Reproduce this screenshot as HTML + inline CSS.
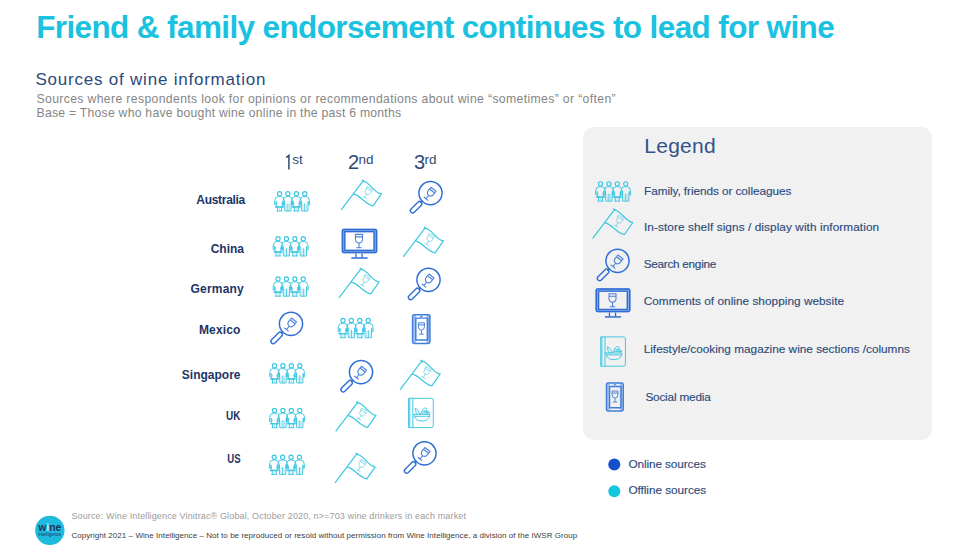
<!DOCTYPE html>
<html><head><meta charset="utf-8">
<style>
html,body{margin:0;padding:0;}
body{width:968px;height:555px;position:relative;overflow:hidden;background:#fff;font-family:"Liberation Sans",sans-serif;}
.t{position:absolute;white-space:pre;margin:0;}
#title{left:36.2px;top:12.2px;font-size:31.5px;line-height:31.5px;font-weight:bold;color:#1ac2e0;letter-spacing:-0.62px;}
#sub{left:35.5px;top:70.7px;font-size:17px;line-height:17px;color:#2b4a7c;letter-spacing:0.78px;}
.desc{left:36.5px;font-size:12.2px;line-height:12.2px;color:#858585;letter-spacing:0.7px;}
.cty{font-size:12px;line-height:12px;font-weight:bold;color:#1b3566;}
.hdr{font-size:20px;line-height:20px;color:#2f4a78;}
.hdr sup{font-size:13.5px;vertical-align:0;position:relative;top:-5.2px;margin-left:-0.6px;}
.leg{font-size:11.8px;line-height:11.8px;color:#2e4b7a;-webkit-text-stroke:0.15px #2e4b7a;}
#legbox{position:absolute;left:583px;top:126.5px;width:349px;height:313px;background:#f1f1f1;border-radius:11px;}
svg#ic{position:absolute;left:0;top:0;}
</style></head><body>
<div id="legbox"></div>
<div class="t" id="title">Friend &amp; family endorsement continues to lead for wine</div>
<div class="t" id="sub">Sources of wine information</div>
<div class="t desc" style="top:93.1px;letter-spacing:0.37px">Sources where respondents look for opinions or recommendations about wine “sometimes” or “often”</div>
<div class="t desc" style="top:106.6px;letter-spacing:0.26px">Base = Those who have bought wine online in the past 6 months</div>

<div class="t hdr" style="left:292.8px;top:152.3px"><sup>st</sup></div>
<div class="t hdr" style="left:348px;top:152.3px">2<sup>nd</sup></div>
<div class="t hdr" style="left:414px;top:152.3px">3<sup>rd</sup></div>

<div class="t cty" style="right:723px;top:193.8px;letter-spacing:-0.3px">Australia</div>
<div class="t cty" style="right:724px;top:242.9px">China</div>
<div class="t cty" style="right:724px;top:282.9px;letter-spacing:0.2px">Germany</div>
<div class="t cty" style="right:727.5px;top:324.4px;letter-spacing:0.15px">Mexico</div>
<div class="t cty" style="right:727.5px;top:368.8px">Singapore</div>
<div class="t cty" style="right:727.5px;top:409.5px;transform:scaleX(0.83);transform-origin:100% 50%">UK</div>
<div class="t cty" style="right:727.5px;top:453.3px;transform:scaleX(0.8);transform-origin:100% 50%">US</div>

<div class="t" style="left:644.3px;top:135.3px;font-size:21px;line-height:21px;color:#34528a;letter-spacing:0.25px">Legend</div>
<div class="t leg" style="left:644px;top:185.5px;letter-spacing:-0.07px">Family, friends or colleagues</div>
<div class="t leg" style="left:644px;top:221.8px;letter-spacing:0.08px">In-store shelf signs / display with information</div>
<div class="t leg" style="left:643.7px;top:259px;letter-spacing:-0.29px">Search engine</div>
<div class="t leg" style="left:643.7px;top:296px;letter-spacing:0.03px">Comments of online shopping website</div>
<div class="t leg" style="left:643.7px;top:344.1px">Lifestyle/cooking magazine wine sections /columns</div>
<div class="t leg" style="left:645.4px;top:391.6px;letter-spacing:-0.2px">Social media</div>
<div class="t leg" style="left:628.4px;top:458.7px;letter-spacing:-0.1px">Online sources</div>
<div class="t leg" style="left:628.4px;top:484.6px;letter-spacing:-0.05px">Offline sources</div>

<div class="t" style="left:71.4px;top:511.5px;font-size:9px;line-height:9px;color:#9b9b9b;letter-spacing:0.14px;">Source: Wine Intelligence Vinitrac® Global, October 2020, n&gt;=703 wine drinkers in each market</div>
<div class="t" style="left:71.4px;top:532px;font-size:8px;line-height:8px;color:#3d3d3d;letter-spacing:0.05px;">Copyright 2021 – Wine Intelligence – Not to be reproduced or resold without permission from Wine Intelligence, a division of the IWSR Group</div>

<svg id="ic" width="968" height="555" viewBox="0 0 968 555">
<defs>
<symbol id="ppl" viewBox="0 0 37 21" overflow="visible">
 <g fill="none" stroke="#3cc6e2" stroke-width="0.95" stroke-linejoin="round" stroke-linecap="round">
  <g id="pair">
   <circle cx="5.5" cy="2.95" r="2.1" stroke-width="1.15"/>
   <path d="M4,5.8 Q0.9,6 0.8,9.5 L0.5,13.8 Q1,14.6 1.8,14 L2.1,10.5 L3,12.6 L2.3,16 H8.7 L8,12.6 L8.9,10.5 L9.2,14 Q10,14.6 10.5,13.8 L10.2,9.5 Q10.1,6 7,5.8 Z"/>
   <path d="M1.7,16.3 H9.3" stroke-width="1.4"/>
   <path d="M3.5,16.3 V20.2 M7.5,16.3 V20.2 M3,20.2 H8"/>
   <path d="M5.5,16.3 V20.2" stroke-width="0.7" stroke="#8ddcec"/>
   <circle cx="13.9" cy="2.95" r="2.1" stroke-width="1.15"/>
   <path d="M12.4,5.8 Q9.3,6 9.2,9.5 L8.9,13.8 Q9.4,14.6 10.2,14 L10.5,10.5 L10.8,20.2 H17 L17.3,10.5 L17.6,14 Q18.4,14.6 18.9,13.8 L18.6,9.5 Q18.5,6 15.4,5.8 Z M13.9,13 V20.2"/>
   <path d="M12.3,14 V20.2 M15.5,14 V20.2" stroke-width="0.7" stroke="#8ddcec"/>
  </g>
  <use href="#pair" x="16.85"/>
 </g>
</symbol>
<symbol id="flag" viewBox="0 0 41 30" overflow="visible">
 <g fill="none" stroke="#3cc8e0" stroke-width="1.2" stroke-linejoin="round" stroke-linecap="round">
  <path d="M0.3,29.2 L21.7,0.9 C28.5,1.2 33,13.2 40.2,13.6 L31.8,25.6 C25,25.3 18.5,14.2 12.3,13.9"/>
  <path d="M21.2,0.2 L22.3,1.2" stroke-width="1.6"/>
  <g transform="translate(26,12.6) rotate(30) scale(0.9)">
   <path d="M-3.2,-6 H3.2 V-2 Q3.2,1.5 0,1.8 Q-3.2,1.5 -3.2,-2 Z M-3.2,-3.8 H3.2 M0,1.8 V5.6 M-2.4,5.9 H2.4" stroke-width="0.95" stroke="#86d8e8"/>
  </g>
 </g>
</symbol>
<symbol id="mag" viewBox="0 0 35 33" overflow="visible">
 <g fill="none" stroke="#2f70d4" stroke-width="1.5" stroke-linejoin="round" stroke-linecap="round">
  <circle cx="21.5" cy="12.3" r="11.6"/>
  <path d="M13.2,20.3 L12,21.5"/>
  <rect x="-2.3" y="0" width="4.6" height="14.2" rx="2.3" transform="translate(12.1,21.4) rotate(45)" stroke-width="1.4"/>
  <g transform="translate(20.7,13.3) rotate(38) scale(1.02)">
   <path d="M-3.2,-6 H3.2 V-2 Q3.2,1.5 0,1.8 Q-3.2,1.5 -3.2,-2 Z M-3.2,-3.8 H3.2 M0,1.8 V5.6 M-2.4,5.9 H2.4" stroke-width="1.05" stroke="#4a82d8"/>
  </g>
 </g>
</symbol>
<symbol id="mon" viewBox="0 0 36 31" overflow="visible">
 <g stroke="#2e6cd3" stroke-linejoin="round">
  <path d="M2,0.2 H34 Q35.8,0.2 35.8,2 V23 Q35.8,24.8 34,24.8 H2 Q0.2,24.8 0.2,23 V2 Q0.2,0.2 2,0.2 Z M3.9,3.7 V21.3 H32 V3.7 Z" fill="#86adea" fill-rule="evenodd" stroke="none"/>
  <rect x="0.95" y="0.95" width="34.1" height="23.1" rx="1.6" fill="none" stroke-width="1.5"/>
  <rect x="3.3" y="3.1" width="29.3" height="18.8" fill="none" stroke-width="1.3"/>
  <path d="M14.4,24.9 V29 M20.6,24.9 V29" stroke-width="1.3" fill="none"/>
  <path d="M9.8,29.5 H26.1" stroke-width="1.5" fill="none"/>
  <g transform="translate(17.5,12.6) scale(1.12)">
   <path d="M-3.2,-6 H3.2 V-2 Q3.2,1.5 0,1.8 Q-3.2,1.5 -3.2,-2 Z M-3.2,-3.8 H3.2 M0,1.8 V5.6 M-2.4,5.9 H2.4" stroke-width="0.95" stroke="#4a80d6" fill="none"/>
  </g>
 </g>
</symbol>
<symbol id="phone" viewBox="0 0 19.25 30.5" overflow="visible">
 <g stroke="#3f7ed9" stroke-linejoin="round" fill="none">
  <path d="M1.8,1.6 H4.6 V29 H1.8 Z M14.9,1.6 H17.7 V29 H14.9 Z" fill="#9dbdee" stroke="none"/>
  <rect x="1.1" y="0.9" width="17.3" height="28.8" rx="1.7" stroke-width="1.55"/>
  <rect x="4.3" y="4.4" width="11.8" height="21.9" stroke-width="1.4"/>
    <path d="M8.4,2.6 H11.2" stroke-width="1"/>
  <g transform="translate(9.9,14.8) scale(0.95)">
   <path d="M-3.2,-6 H3.2 V-2 Q3.2,1.5 0,1.8 Q-3.2,1.5 -3.2,-2 Z M-3.2,-3.8 H3.2 M0,1.8 V5.6 M-2.4,5.9 H2.4" stroke-width="1.05" stroke="#4a80d6"/>
  </g>
 </g>
</symbol>
<symbol id="book" viewBox="0 0 25 30" overflow="visible">
 <g fill="none" stroke="#45c8e2" stroke-width="1" stroke-linejoin="round" stroke-linecap="round">
  <path d="M0.7,0.3 H23.2 Q25,0.3 25,2.2 V27.9 Q25,29.6 23.2,29.6 H0.7 Z"/>
  <path d="M1.5,0.3 V29.6 M4.6,0.3 V29.6"/>
  <path d="M5.6,16.4 H21.6 C21.1,21 18.5,23 13.6,23 C8.7,23 6.1,21 5.6,16.4 Z M6.2,18.3 H21"/>
  <path d="M7.2,10.4 L9.2,11.4 L11.6,16.3 L8.6,16.3 Z" stroke-width="0.9"/>
  <path d="M12.2,16.3 L14.8,11.2 L17.6,9.6 L19,11.8 M14.6,13.2 L18.4,13 M12.8,15 H20.6" stroke-width="0.9"/>
  <circle cx="17.6" cy="13.6" r="1.3" stroke-width="0.8"/>
  <circle cx="20" cy="14.6" r="1.2" stroke-width="0.8"/>
 </g>
</symbol>
</defs>

<!-- Column 1 -->
<use href="#ppl" x="274" y="190.75" width="37" height="21"/>
<use href="#ppl" x="272.5" y="235.75" width="37" height="21"/>
<use href="#ppl" x="272.5" y="276" width="37" height="21"/>
<use href="#mag" x="269.5" y="311.5" width="35" height="33"/>
<use href="#ppl" x="269" y="362.75" width="37" height="21"/>
<use href="#ppl" x="269" y="407.5" width="37" height="21"/>
<use href="#ppl" x="268.75" y="454.25" width="37" height="21"/>
<!-- Column 2 -->
<use href="#flag" x="341.25" y="180.25" width="41" height="30"/>
<use href="#mon" x="341.5" y="228.5" width="36" height="31"/>
<use href="#flag" x="339" y="268.25" width="41" height="30"/>
<use href="#ppl" x="337.5" y="317.5" width="37" height="21"/>
<use href="#mag" x="339.5" y="359.75" width="35" height="33"/>
<use href="#flag" x="335.75" y="401.75" width="41" height="30"/>
<use href="#flag" x="335" y="453.25" width="41" height="30"/>
<!-- Column 3 -->
<use href="#mag" x="409" y="180.75" width="35" height="33"/>
<use href="#flag" x="403.25" y="227.25" width="41" height="30"/>
<use href="#mag" x="407" y="267.5" width="35" height="33"/>
<use href="#phone" x="411.5" y="313.75" width="19.25" height="30.5"/>
<use href="#flag" x="400" y="360.25" width="41" height="30"/>
<use href="#book" x="408.25" y="398" width="25" height="30"/>
<use href="#mag" x="403" y="441" width="35" height="33"/>
<!-- Legend icons -->
<use href="#ppl" x="595" y="180.9" width="37" height="21"/>
<use href="#flag" x="592.6" y="208.9" width="41" height="30"/>
<use href="#mag" x="596" y="248.5" width="35" height="33"/>
<use href="#mon" x="595" y="288" width="36" height="30.4"/>
<use href="#book" x="600.4" y="336.6" width="25" height="30"/>
<use href="#phone" x="605.4" y="382.2" width="18.7" height="29.6"/>
<path d="M286.2,157.6 L288.9,155.4 V169.6" fill="none" stroke="#2f4a78" stroke-width="1.5" stroke-linejoin="miter"/>
<!-- dots -->
<circle cx="614.3" cy="464.5" r="6" fill="#1450cc"/>
<circle cx="614.3" cy="491.3" r="6" fill="#14c6e0"/>
<!-- logo -->
<circle cx="49.85" cy="530.35" r="14.7" fill="#1ebbdd"/>
<text x="38.2" y="530.9" font-family="Liberation Sans" font-weight="bold" font-size="10.6" fill="#1f3163" textLength="23" lengthAdjust="spacingAndGlyphs">w<tspan fill="#bfeaf5">i</tspan>ne</text>
<text x="38.2" y="536.4" font-family="Liberation Sans" font-size="4.6" fill="#1f3163" textLength="23" lengthAdjust="spacingAndGlyphs">intelligence</text>
</svg>
</body></html>
